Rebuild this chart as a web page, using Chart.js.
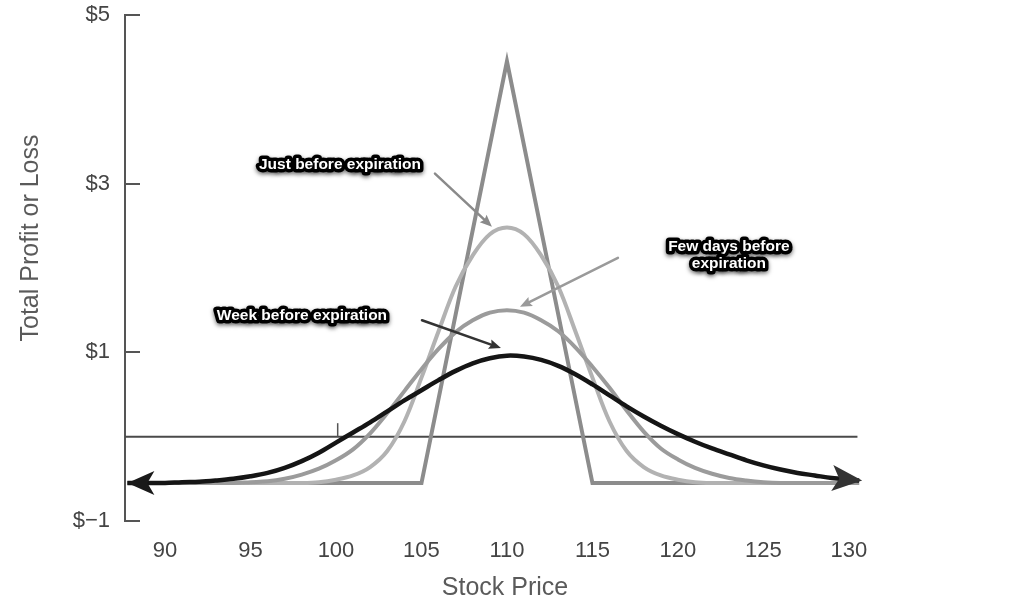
<!DOCTYPE html>
<html><head><meta charset="utf-8">
<script src="https://cdn.jsdelivr.net/npm/chart.js@4.4.1/dist/chart.umd.min.js"></script>
<style>html,body{margin:0;padding:0;background:#fff;}canvas{display:block;}</style>
</head><body>
<canvas id="c" width="1024" height="603"></canvas>
<script>
// ---- data ----
const xTicks = [90, 95, 100, 105, 110, 115, 120, 125, 130];
const yTicks = [-1, 1, 3, 5];

const prices = [87.8, 89, 90, 91, 92, 93, 94, 95, 96, 97, 98, 99, 100, 101, 102, 103, 104, 105, 106, 107, 108, 109,
  110, 111, 112, 113, 114, 115, 116, 117, 118, 119, 120, 121, 122, 123, 124, 125, 126, 127, 128, 129, 130, 130.6];

const weekBefore = [-0.55, -0.55, -0.55, -0.54, -0.535, -0.52, -0.50, -0.47, -0.43, -0.37, -0.29, -0.19, -0.07, 0.05, 0.17, 0.30, 0.43, 0.55, 0.67, 0.78, 0.87, 0.93,
  0.96, 0.95, 0.91, 0.84, 0.74, 0.62, 0.49, 0.36, 0.24, 0.13, 0.03, -0.06, -0.14, -0.21, -0.28, -0.34, -0.39, -0.43, -0.46, -0.49, -0.51, -0.52];

const fewDaysBefore = [-0.55, -0.55, -0.55, -0.55, -0.55, -0.55, -0.55, -0.54, -0.53, -0.50, -0.45, -0.38, -0.28, -0.15, 0.04, 0.28, 0.54, 0.80, 1.04, 1.24, 1.38, 1.47,
  1.50, 1.47, 1.38, 1.25, 1.06, 0.83, 0.58, 0.31, 0.06, -0.14, -0.27, -0.37, -0.44, -0.49, -0.52, -0.54, -0.55, -0.55, -0.55, -0.55, -0.55, -0.55];

const justBefore = [-0.55, -0.55, -0.55, -0.55, -0.55, -0.55, -0.55, -0.55, -0.55, -0.55, -0.55, -0.54, -0.51, -0.46, -0.36, -0.17, 0.18, 0.70, 1.25, 1.78, 2.15, 2.40,
  2.48, 2.40, 2.15, 1.78, 1.25, 0.70, 0.18, -0.17, -0.36, -0.46, -0.51, -0.54, -0.55, -0.55, -0.55, -0.55, -0.55, -0.55, -0.55, -0.55, -0.55, -0.55];

const expiryPrices = [87.8, 105, 110, 115, 130];
const expiryValues = [-0.55, -0.55, 4.45, -0.55, -0.55];

const zeroLinePrices = [87.66, 130.5];
const zeroLineValues = [0, 0];

// ---- annotations (in data units) ----
const labels = [
  {lines: ['Just before expiration'], x: 100.23, y: 3.22},
  {lines: ['Few days before', 'expiration'], x: 122.98, y: 2.25},
  {lines: ['Week before expiration'], x: 98.01, y: 1.43}
];
const pointers = [
  {from: [105.79, 3.12], to: [109.12, 2.49], color: '#8a8a8a'},
  {from: [116.49, 2.12], to: [110.76, 1.54], color: '#9a9a9a'},
  {from: [105.03, 1.38], to: [109.65, 1.05], color: '#333333'}
];

const pts = (xs, ys) => xs.map((v, i) => ({x: v, y: ys[i]}));

function arrowHead(ctx, tx, ty, ang, len, half, notch, color) {
  ctx.save();
  ctx.translate(tx, ty);
  ctx.rotate(ang);
  ctx.fillStyle = color;
  ctx.beginPath();
  ctx.moveTo(0, 0);
  ctx.lineTo(-len, -half);
  ctx.lineTo(-len + notch, 0);
  ctx.lineTo(-len, half);
  ctx.closePath();
  ctx.fill();
  ctx.restore();
}

const overlay = {
  id: 'overlay',
  afterDatasetsDraw(chart) {
    const {ctx, scales: {x, y}} = chart;
    ctx.save();
    // inward y ticks
    ctx.strokeStyle = '#555'; ctx.lineWidth = 2;
    yTicks.forEach(v => {
      const py = Math.round(y.getPixelForValue(v));
      ctx.beginPath(); ctx.moveTo(x.left, py); ctx.lineTo(x.left + 15, py); ctx.stroke();
    });
    // small mark on zero line near 100
    ctx.strokeStyle = '#555'; ctx.lineWidth = 1.5;
    ctx.beginPath();
    ctx.moveTo(x.getPixelForValue(100.1), y.getPixelForValue(0));
    ctx.lineTo(x.getPixelForValue(100.1), y.getPixelForValue(0.16));
    ctx.stroke();

    // arrowheads on the week-before curve
    const n = prices.length;
    const lx = x.getPixelForValue(prices[0]), ly = y.getPixelForValue(weekBefore[0]);
    arrowHead(ctx, lx, ly, Math.PI, 27, 12, 7, '#1a1a1a');
    const rx = x.getPixelForValue(prices[n - 1]), ry = y.getPixelForValue(weekBefore[n - 1]);
    const rx0 = x.getPixelForValue(prices[n - 2]), ry0 = y.getPixelForValue(weekBefore[n - 2]);
    arrowHead(ctx, rx + 3, ry, Math.atan2(ry - ry0, rx - rx0), 30, 13, 7, '#333');

    // pointer arrows
    pointers.forEach(p => {
      const x1 = x.getPixelForValue(p.from[0]), y1 = y.getPixelForValue(p.from[1]);
      const x2 = x.getPixelForValue(p.to[0]), y2 = y.getPixelForValue(p.to[1]);
      const ang = Math.atan2(y2 - y1, x2 - x1);
      ctx.strokeStyle = p.color; ctx.lineWidth = 2.5; ctx.lineCap = 'round';
      ctx.beginPath(); ctx.moveTo(x1, y1); ctx.lineTo(x2 - 6 * Math.cos(ang), y2 - 6 * Math.sin(ang)); ctx.stroke();
      arrowHead(ctx, x2, y2, ang, 12, 5, 2, p.color);
    });

    // labels: white text with thick black outline
    ctx.font = 'bold 15.5px "Liberation Sans", Arial, sans-serif';
    ctx.textAlign = 'center'; ctx.textBaseline = 'middle';
    ctx.lineJoin = 'round';
    labels.forEach(l => {
      const cx = x.getPixelForValue(l.x), cy = y.getPixelForValue(l.y);
      l.lines.forEach((t, i) => {
        const py = cy + i * 17;
        ctx.save();
        ctx.shadowColor = 'rgba(0,0,0,0.55)'; ctx.shadowBlur = 4; ctx.shadowOffsetY = 2;
        ctx.strokeStyle = '#000'; ctx.lineWidth = 7;
        ctx.strokeText(t, cx, py);
        ctx.restore();
        ctx.fillStyle = '#fff';
        ctx.fillText(t, cx, py);
      });
    });

    // axis titles
    ctx.fillStyle = '#5a5a5a';
    ctx.font = '25px "Liberation Sans", Arial, sans-serif';
    ctx.textAlign = 'center'; ctx.textBaseline = 'middle';
    ctx.fillText('Stock Price', 505, 588);
    ctx.save();
    ctx.translate(31, 238);
    ctx.rotate(-Math.PI / 2);
    ctx.fillText('Total Profit or Loss', 0, 0);
    ctx.restore();
    ctx.restore();
  }
};

new Chart(document.getElementById('c'), {
  type: 'line',
  data: {
    datasets: [
      {data: pts(prices, weekBefore), borderColor: '#151515', borderWidth: 4.5, order: 0, tension: 0.35},
      {data: pts(prices, fewDaysBefore), borderColor: '#9b9b9b', borderWidth: 4, order: 1, tension: 0.35},
      {data: pts(prices, justBefore), borderColor: '#b2b2b2', borderWidth: 4, order: 2, tension: 0.35},
      {data: pts(expiryPrices, expiryValues), borderColor: '#8c8c8c', borderWidth: 4, order: 3, tension: 0},
      {data: pts(zeroLinePrices, zeroLineValues), borderColor: '#4a4a4a', borderWidth: 2, order: 4, tension: 0}
    ]
  },
  options: {
    responsive: false,
    animation: false,
    devicePixelRatio: 1,
    layout: {padding: {left: 0, top: 15, right: 158, bottom: 0}},
    elements: {point: {radius: 0}, line: {fill: false, borderCapStyle: 'butt', borderJoinStyle: 'miter'}},
    plugins: {legend: {display: false}, tooltip: {enabled: false}},
    scales: {
      x: {
        type: 'linear', min: 87.66, max: 131,
        afterBuildTicks: s => { s.ticks = xTicks.map(v => ({value: v})); },
        afterFit: s => { s.height = 82; s.paddingLeft = 0; s.paddingRight = 0; },
        grid: {display: false, drawTicks: false},
        border: {display: false},
        ticks: {padding: 17, color: '#444', font: {size: 22, family: '"Liberation Sans", Arial, sans-serif'}, maxRotation: 0, autoSkip: false}
      },
      y: {
        type: 'linear', min: -1, max: 5,
        afterBuildTicks: s => { s.ticks = yTicks.map(v => ({value: v})); },
        afterFit: s => { s.width = 125; s.paddingTop = 0; s.paddingBottom = 0; },
        grid: {display: false, drawTicks: false},
        border: {display: true, color: '#555', width: 2},
        ticks: {padding: 15, color: '#444', font: {size: 22, family: '"Liberation Sans", Arial, sans-serif'},
          callback: v => v < 0 ? '$\u2212' + Math.abs(v) : '$' + v}
      }
    }
  },
  plugins: [overlay]
});
</script>
</body></html>
